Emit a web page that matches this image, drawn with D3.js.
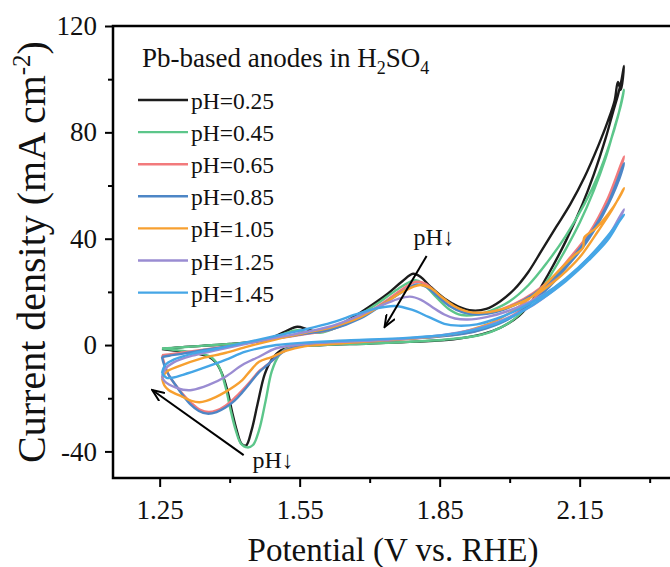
<!DOCTYPE html>
<html><head><meta charset="utf-8">
<script src="https://cdn.jsdelivr.net/npm/d3@7"></script>
<style>
body{margin:0;background:#fff}
svg{display:block}
text{font-family:"Liberation Serif","Times New Roman",serif;fill:#111}
</style>
</head><body>
<svg id="c" width="670" height="567"></svg>
<script>
// ---------- data ----------
const seriesNames = ["pH=0.25","pH=0.45","pH=0.65","pH=0.85","pH=1.05","pH=1.25","pH=1.45"];
const seriesColors = ["#1c1c1c","#5cc68a","#f27a7c","#4d86c6","#f7a030","#9a8cd2","#45a6e6"];
const xTicks = [1.25,1.55,1.85,2.15];
const xMinorTicks = [1.40,1.70,2.00,2.30];
const yTicks = [-40,0,40,80,120];
const yMinorTicks = [-20,20,60,100];

// [potential V vs RHE, current density mA cm-2], forward then reverse scan
const ph025 = [[1.255,-1.5],[1.29,-0.9],[1.34,-0.3],[1.40,0.4],[1.45,1.3],[1.49,2.8],[1.52,5.2],[1.545,6.9],[1.565,6.0],[1.585,5.0],[1.62,6.5],[1.66,10],[1.70,14.5],[1.74,19.5],[1.77,24],[1.793,26.8],[1.81,25.5],[1.83,22],[1.86,17.5],[1.89,14.5],[1.92,13],[1.95,13.6],[1.98,16.5],[2.01,21],[2.04,27.5],[2.07,36],[2.10,44.5],[2.13,53],[2.16,63],[2.19,75],[2.21,84],[2.225,92],[2.232,99],[2.238,96],[2.245,105],
  [2.24,100],[2.232,94],[2.222,88],[2.206,78],[2.18,64],[2.156,53],[2.12,39],[2.084,27],[2.05,17],[2.02,11],[1.98,6.5],[1.94,4],[1.88,2.2],[1.80,1.3],[1.70,0.6],[1.60,0],[1.54,-0.6],[1.51,-2],[1.49,-5.5],[1.475,-11],[1.46,-22],[1.447,-32],[1.435,-37.8],[1.425,-37],[1.415,-32],[1.405,-25],[1.395,-17],[1.383,-10.5],[1.37,-6.5],[1.355,-4.4],[1.33,-3.2],[1.29,-2.3],[1.255,-1.5]];
const ph045 = [[1.255,-1.3],[1.29,-0.9],[1.34,-0.3],[1.40,0.4],[1.45,1.2],[1.49,2.5],[1.52,4.5],[1.545,5.6],[1.57,4.7],[1.60,4.8],[1.64,7.5],[1.68,11.5],[1.72,16],[1.76,21],[1.797,24.4],[1.815,23],[1.84,18.5],[1.87,13.5],[1.897,11.3],[1.93,11.5],[1.96,13],[2.00,16.5],[2.04,22.5],[2.08,31],[2.12,41],[2.16,53],[2.19,64],[2.215,76],[2.232,86],[2.245,96],
  [2.238,90],[2.225,82],[2.205,70],[2.18,58],[2.15,46],[2.12,36],[2.09,27],[2.06,19],[2.03,13],[2.00,8.5],[1.96,5],[1.92,3.2],[1.86,2],[1.78,1.2],[1.70,0.6],[1.60,0],[1.54,-0.6],[1.52,-1.5],[1.505,-4],[1.49,-10],[1.477,-21],[1.463,-32],[1.45,-37.6],[1.438,-38.5],[1.424,-37],[1.413,-32],[1.402,-24.4],[1.391,-15.7],[1.377,-8.1],[1.359,-4.4],[1.334,-3.1],[1.29,-2],[1.255,-1.3]];
const ph065 = [[1.255,-3.8],[1.27,-3.5],[1.30,-2.8],[1.34,-1.8],[1.39,-0.6],[1.44,0.8],[1.50,2.5],[1.56,4],[1.62,6],[1.68,10.5],[1.73,16],[1.77,21],[1.80,23.8],[1.82,23],[1.845,19],[1.87,15],[1.90,12.5],[1.935,11.8],[1.97,12.8],[2.01,15.5],[2.05,19.5],[2.09,25],[2.13,33],[2.17,42],[2.21,55],[2.245,71],
  [2.235,65],[2.20,51],[2.16,39],[2.12,30],[2.08,22],[2.04,15.5],[2.00,10.5],[1.95,6.5],[1.90,4.3],[1.82,2.8],[1.72,1.6],[1.62,0.6],[1.55,-0.3],[1.52,-1.8],[1.50,-4.5],[1.48,-7.5],[1.463,-9.8],[1.445,-13.5],[1.427,-17],[1.41,-20],[1.391,-22.8],[1.372,-24.6],[1.355,-25.2],[1.337,-24.4],[1.319,-22],[1.30,-18.5],[1.285,-15.2],[1.27,-11.5],[1.261,-7.5],[1.255,-3.8]];
const ph085 = [[1.255,-4.5],[1.27,-4],[1.30,-3.2],[1.34,-2],[1.39,-0.7],[1.44,0.8],[1.50,2.6],[1.56,4.2],[1.62,6],[1.68,10],[1.73,15.5],[1.77,20],[1.80,22.8],[1.82,22],[1.845,18.5],[1.87,14.8],[1.90,12.3],[1.935,11.5],[1.97,12.4],[2.01,15],[2.05,19],[2.09,24.5],[2.13,32],[2.17,41],[2.21,53],[2.245,68.4],
  [2.235,62.5],[2.20,49],[2.16,37.5],[2.12,29],[2.08,21],[2.04,15],[2.00,10],[1.95,6.3],[1.90,4.2],[1.82,2.8],[1.72,1.6],[1.62,0.6],[1.55,-0.4],[1.52,-2],[1.50,-4.5],[1.48,-7.6],[1.463,-10.2],[1.445,-14],[1.427,-17.8],[1.41,-21],[1.391,-23.5],[1.372,-25.2],[1.352,-25.8],[1.334,-24.8],[1.316,-22.3],[1.298,-18.5],[1.283,-14.8],[1.268,-10.8],[1.259,-7.2],[1.255,-4.5]];
const ph105 = [[1.255,-12.5],[1.265,-10],[1.29,-8],[1.34,-5],[1.39,-3],[1.44,-0.5],[1.50,2.2],[1.56,4.5],[1.62,6.8],[1.68,10.5],[1.73,15.5],[1.77,20],[1.808,22.6],[1.83,21.5],[1.855,18],[1.88,14.8],[1.912,12.5],[1.95,12.3],[1.99,13.8],[2.03,16.5],[2.07,20.5],[2.11,26],[2.15,33],[2.19,43],[2.22,51],[2.245,59],
  [2.235,55.5],[2.21,49],[2.185,44],[2.16,40.5],[2.157,36.5],[2.14,34],[2.10,27],[2.06,20],[2.02,14.5],[1.98,10],[1.94,7],[1.89,4.6],[1.82,2.9],[1.72,1.6],[1.62,0.4],[1.56,-0.5],[1.52,-2.2],[1.49,-4.5],[1.463,-6.3],[1.445,-9.5],[1.427,-13.2],[1.41,-15.5],[1.391,-17.6],[1.37,-19.6],[1.35,-21],[1.335,-21.5],[1.318,-21],[1.298,-19.4],[1.28,-18],[1.269,-16.9],[1.26,-15.2],[1.255,-12.5]];
const ph125 = [[1.255,-12],[1.262,-9],[1.28,-6.5],[1.32,-4],[1.37,-2],[1.43,0.3],[1.50,2.8],[1.56,4.8],[1.62,7.2],[1.67,10.5],[1.72,14.5],[1.76,17.3],[1.786,18.2],[1.81,17],[1.833,14.4],[1.86,11.5],[1.883,10],[1.91,9.6],[1.95,10.5],[2.00,13],[2.05,16.8],[2.10,22],[2.15,29],[2.20,38.5],[2.225,44],[2.245,51],
  [2.235,48],[2.21,40.5],[2.17,33],[2.13,26],[2.09,20],[2.05,15],[2.00,10.5],[1.95,7.2],[1.90,5],[1.83,3.2],[1.74,2],[1.64,1.2],[1.56,0.4],[1.50,-1.2],[1.463,-4.4],[1.427,-7.5],[1.391,-11.9],[1.355,-15],[1.319,-16.9],[1.30,-16.8],[1.285,-16],[1.27,-14.8],[1.26,-13.5],[1.255,-12]];
const ph145 = [[1.255,-10.5],[1.262,-7.5],[1.28,-5.5],[1.32,-3.2],[1.37,-1.5],[1.43,0.8],[1.50,3.5],[1.56,5.8],[1.62,8.5],[1.67,11.5],[1.71,13.6],[1.754,14.7],[1.79,13.3],[1.826,10.6],[1.86,8],[1.89,7.3],[1.93,7.8],[1.97,9.8],[2.02,13.5],[2.07,18.5],[2.12,25],[2.17,33],[2.21,41],[2.245,49],
  [2.235,46.5],[2.21,39.5],[2.17,32],[2.12,24],[2.07,17.5],[2.02,12],[1.97,8],[1.92,5.5],[1.86,3.8],[1.76,2.5],[1.66,1.8],[1.56,0.9],[1.50,0],[1.434,-2.5],[1.391,-5.6],[1.341,-8.8],[1.30,-11.2],[1.28,-12.2],[1.265,-12.3],[1.255,-10.5]];
const allSeries = [ph025,ph045,ph065,ph085,ph105,ph125,ph145];

// annotation arrows in data units: [from V, from j, to V, to j]
const arrowUpper = [1.822,33.5,1.732,6.8];
const arrowLower = [1.430,-41.4,1.234,-16.9];
const labelUpper = [1.794,37.6];
const labelLower = [1.449,-46.2];

// ---------- chart ----------
const svg = d3.select("#c");
const x = d3.scaleLinear().domain([1.15,2.35]).range([113,673]);
const y = d3.scaleLinear().domain([-50,120]).range([478,26]);

svg.append("defs").append("marker")
  .attr("id","ah").attr("viewBox","0 0 12 10").attr("refX",11).attr("refY",5)
  .attr("markerWidth",14).attr("markerHeight",11).attr("markerUnits","userSpaceOnUse")
  .attr("orient","auto")
  .append("path").attr("d","M0,0.5 L11,5 L0,9.5").attr("fill","none").attr("stroke","#000").attr("stroke-width",1.8);

// axes
function styleAxis(g){ g.select(".domain").remove(); g.selectAll("line").attr("stroke","#000").attr("stroke-width",2); }
const gx = svg.append("g").attr("transform",`translate(0,${y(-50)})`)
  .call(d3.axisBottom(x).tickValues(xTicks).tickSize(9).tickPadding(13).tickFormat(d3.format(".2f")));
styleAxis(gx);
gx.selectAll("text").attr("font-size",27).attr("font-family","Liberation Serif").attr("fill","#111");
const gxm = svg.append("g").attr("transform",`translate(0,${y(-50)})`)
  .call(d3.axisBottom(x).tickValues(xMinorTicks).tickSize(5).tickFormat(""));
styleAxis(gxm);

const gy = svg.append("g").attr("transform",`translate(${x(1.15)},0)`)
  .call(d3.axisLeft(y).tickValues(yTicks).tickSize(8).tickPadding(8).tickFormat(d=>String(d)));
styleAxis(gy);
gy.selectAll("text").attr("font-size",27).attr("font-family","Liberation Serif").attr("fill","#111");
const gym = svg.append("g").attr("transform",`translate(${x(1.15)},0)`)
  .call(d3.axisLeft(y).tickValues(yMinorTicks).tickSize(5).tickFormat(""));
styleAxis(gym);

// curves
const line = d3.line().x(d=>x(d[0])).y(d=>y(d[1])).curve(d3.curveCatmullRom.alpha(0.5));
svg.append("g").selectAll("path").data(allSeries).join("path")
  .attr("d",line).attr("fill","none")
  .attr("stroke",(d,i)=>seriesColors[i]).attr("stroke-width",2.4)
  .attr("stroke-linejoin","round");

// frame
svg.append("rect").attr("x",x(1.15)).attr("y",y(120)).attr("width",620).attr("height",y(-50)-y(120))
  .attr("fill","none").attr("stroke","#000").attr("stroke-width",2.5);

// axis titles
svg.append("text").attr("x",393).attr("y",561).attr("text-anchor","middle").attr("font-size",33)
  .text("Potential (V vs. RHE)");
const yt = svg.append("text").attr("transform","translate(45,252) rotate(-90)").attr("text-anchor","middle").attr("font-size",40);
yt.append("tspan").text("Current density (mA cm");
yt.append("tspan").attr("dy",-15).attr("font-size",25).text("-2");
yt.append("tspan").attr("dy",15).text(")");

// legend
const lt = svg.append("text").attr("x",142).attr("y",67).attr("font-size",27);
lt.append("tspan").text("Pb-based anodes in H");
lt.append("tspan").attr("dy",7).attr("font-size",18).text("2");
lt.append("tspan").attr("dy",-7).text("SO");
lt.append("tspan").attr("dy",7).attr("font-size",18).text("4");
const leg = svg.append("g").selectAll("g").data(seriesNames).join("g")
  .attr("transform",(d,i)=>`translate(0,${100+i*32.1})`);
leg.append("line").attr("x1",138).attr("x2",188).attr("stroke",(d,i)=>seriesColors[i]).attr("stroke-width",2.4);
leg.append("text").attr("x",191).attr("y",9).attr("font-size",23.5).text(d=>d);

// annotations
[arrowUpper,arrowLower].forEach(a=>{
  svg.append("line").attr("x1",x(a[0])).attr("y1",y(a[1])).attr("x2",x(a[2])).attr("y2",y(a[3]))
    .attr("stroke","#000").attr("stroke-width",2).attr("marker-end","url(#ah)");
});
[labelUpper,labelLower].forEach(l=>{
  svg.append("text").attr("x",x(l[0])).attr("y",y(l[1])).attr("font-size",24).text("pH\u2193");
});
</script>
</body></html>
